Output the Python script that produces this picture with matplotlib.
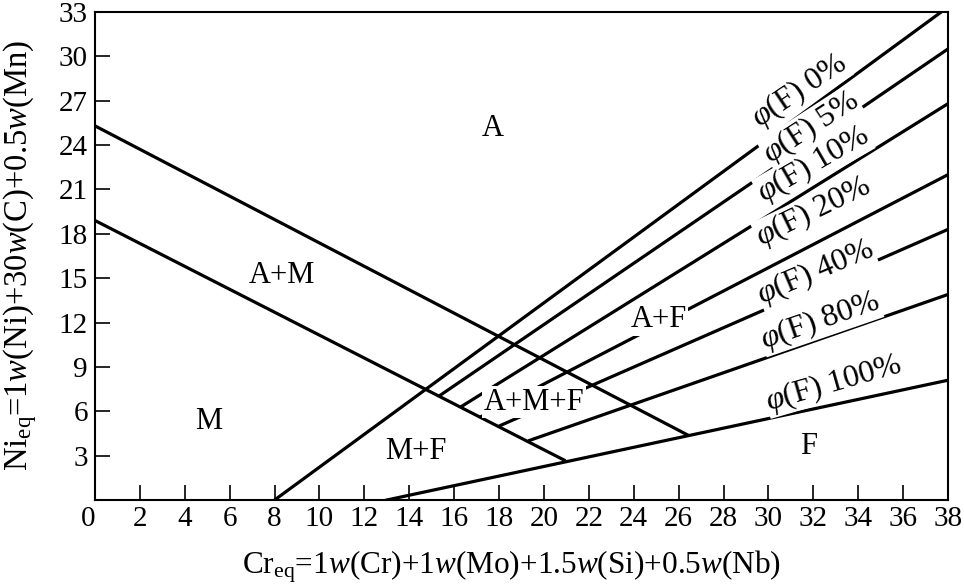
import numpy as np
import matplotlib
matplotlib.use('Agg')
import matplotlib.pyplot as plt

plt.rcParams['font.family'] = ['Liberation Serif', 'DejaVu Serif']
plt.rcParams['mathtext.fontset'] = 'custom'
plt.rcParams['mathtext.rm'] = 'Liberation Serif'
plt.rcParams['mathtext.it'] = 'Liberation Serif:italic'

# phase boundaries (Cr_eq, Ni_eq)
a_bound_x = [0.0, 26.4]
a_bound_y = [25.3, 4.4]
m_bound_x = [0.0, 20.9]
m_bound_y = [18.9, 2.7]
f100_x = [13.0, 38.0]
f100_y = [0.0, 8.1]

# ferrite iso-lines
ferrite_pct = ['0', '5', '10', '20', '40', '80', '100']
ferrite_x0 = [8.0, 15.3, 16.3, 17.15, 18.0, 19.3]
ferrite_y0 = [0.0, 7.0, 6.3, 5.6, 5.0, 4.0]
ferrite_x1 = [37.7, 38.0, 38.0, 38.0, 38.0, 38.0]
ferrite_y1 = [33.0, 30.5, 26.8, 22.0, 18.3, 13.9]

regions = ['A', 'A+M', 'M', 'M+F', 'A+M+F', 'A+F', 'F']

x_ticks = np.arange(0, 39, 2)
y_ticks = np.arange(3, 34, 3)

fig = plt.figure(figsize=(9.64, 5.84), dpi=100)
ax = fig.add_axes([0.0985, 0.1438, 0.8849, 0.8357])

lw = 2.3
ax.plot(a_bound_x, a_bound_y, color='black', lw=lw, zorder=2)
ax.plot(m_bound_x, m_bound_y, color='black', lw=lw, zorder=2)
ax.plot(f100_x, f100_y, color='black', lw=lw, zorder=2)
for i in range(len(ferrite_x0)):
    ax.plot([ferrite_x0[i], ferrite_x1[i]], [ferrite_y0[i], ferrite_y1[i]],
            color='black', lw=lw, zorder=2, solid_capstyle='butt')

# region labels
reg_pos = [(17.7, 25.1), (8.35, 15.2), (5.05, 5.3), (14.3, 3.25),
           (19.56, 6.6), (25.1, 12.2), (31.8, 3.6)]
for name, (px, py) in zip(regions, reg_pos):
    ax.text(px, py, name, fontsize=22, ha='center', va='center', zorder=5,
            bbox=dict(facecolor='white', edgecolor='none', pad=1))

# phi(F) labels
lab_pos = [(31.4, 27.7), (31.9, 25.2), (32.0, 22.7), (32.0, 19.5),
           (32.1, 15.4), (32.3, 12.1), (32.9, 7.9)]
lab_rot = [34, 33, 30, 26, 23, 19, 16]
for pct, (px, py), r in zip(ferrite_pct, lab_pos, lab_rot):
    ax.text(px, py, r'$\varphi$(F) ' + pct + '%', fontsize=23, rotation=r,
            ha='center', va='center', rotation_mode='anchor', zorder=5,
            bbox=dict(facecolor='white', edgecolor='none', pad=0))

ax.set_xlim(0, 38)
ax.set_ylim(0, 33)
ax.set_xticks(x_ticks)
ax.set_xticklabels([str(v) for v in x_ticks])
ax.set_yticks(y_ticks)
ax.set_yticklabels([str(v) for v in y_ticks])
ax.get_xticklabels()[0].set_horizontalalignment('right')
ax.tick_params(direction='in', length=11, width=1.2, labelsize=21,
               top=False, right=False)
ax.tick_params(axis='x', pad=4)
ax.tick_params(axis='y', pad=5)
for s in ax.spines.values():
    s.set_linewidth(1.5)

ax.set_xlabel(r'Cr$_{\mathrm{eq}}$=1$w$(Cr)+1$w$(Mo)+1.5$w$(Si)+0.5$w$(Nb)',
              fontsize=22.5)
ax.xaxis.set_label_coords(0.488, -0.1)
ax.set_ylabel(r'Ni$_{\mathrm{eq}}$=1$w$(Ni)+30$w$(C)+0.5$w$(Mn)', fontsize=23.5)
ax.yaxis.set_label_coords(-0.066, 0.5)

fig.savefig('out.png', dpi=100)
